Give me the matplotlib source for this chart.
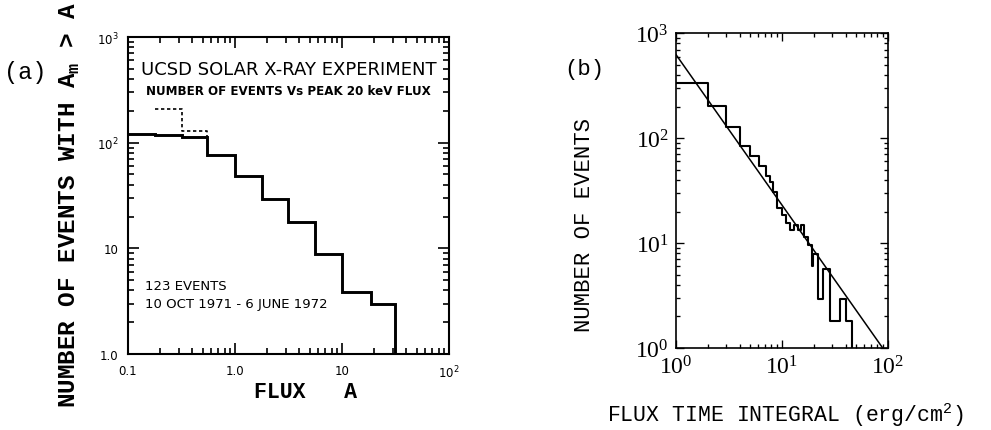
import matplotlib

matplotlib.use("Agg")
import matplotlib.pyplot as plt
from matplotlib.ticker import FixedLocator, FixedFormatter, LogLocator, NullFormatter

# (a) integral count of events above peak 20 keV flux
a_edges = [0.1, 0.18, 0.32, 0.55, 1.0, 1.77, 3.15, 5.6, 10.0, 18.5, 31.0, 100.0]
a_counts = [122, 119, 114, 77, 48, 29, 17.6, 8.8, 3.9, 3.0, 1.0]
# dashed variant at the low-flux end
a_dash_x = [0.18, 0.32, 0.55]
a_dash_n = [208, 129, 114]

a_xticks = [0.1, 1.0, 10.0, 100.0]
a_xlabels = ["0.1", "1.0", "10", r"$\mathregular{10^2}$"]
a_yticks = [1.0, 10.0, 100.0, 1000.0]
a_ylabels = ["1.0", "10", r"$\mathregular{10^2}$", r"$\mathregular{10^3}$"]

# (b) cumulative number of events vs flux time integral
b_x = [1.0, 2.0, 3.0, 4.0, 5.0, 6.05, 7.1, 7.7, 8.2, 9.0, 10.0, 11.0, 12.1, 13.0,
       14.2, 15.3, 16.4, 17.6, 19.3, 19.8, 22.0, 24.7, 28.6, 35.6, 40.2, 45.9]
b_n = [336, 204, 129, 85, 68, 54, 44, 38, 30.5, 21.5, 18.5, 15.5, 13.3, 15.0,
       13.2, 14.8, 11.5, 9.6, 6.0, 7.9, 2.93, 5.66, 1.8, 2.93, 1.8, 1.0]
# power-law fit drawn as a straight line in log-log space
b_fit_x = [1.0, 89.7]
b_fit_n = [632, 1.0]

b_ticks = [1.0, 10.0, 100.0]
b_xlabels = [r"$\mathregular{10^0}$", r"$\mathregular{10^1}$", r"$\mathregular{10^2}$"]
b_yticks = [1.0, 10.0, 100.0, 1000.0]
b_ylabels = [r"$\mathregular{10^0}$", r"$\mathregular{10^1}$",
             r"$\mathregular{10^2}$", r"$\mathregular{10^3}$"]

MONO = "Liberation Mono"
W, H = 991, 431


def fx(px):
    return px / W


def fy(py):
    return 1 - py / H


def setup_log_axes(ax, xticks, xlabels, yticks, ylabels, lw, major_len, minor_len,
                   tick_font, tick_size, pad):
    # scale first, otherwise set_xscale resets the locators
    ax.set_xscale("log")
    ax.set_yscale("log")
    ax.xaxis.set_major_locator(FixedLocator(xticks))
    ax.xaxis.set_major_formatter(FixedFormatter(xlabels))
    ax.yaxis.set_major_locator(FixedLocator(yticks))
    ax.yaxis.set_major_formatter(FixedFormatter(ylabels))
    ax.xaxis.set_minor_locator(LogLocator(base=10, subs=range(2, 10)))
    ax.yaxis.set_minor_locator(LogLocator(base=10, subs=range(2, 10)))
    ax.xaxis.set_minor_formatter(NullFormatter())
    ax.yaxis.set_minor_formatter(NullFormatter())
    for s in ax.spines.values():
        s.set_linewidth(lw)
    ax.tick_params(which="both", direction="in", top=True, right=True,
                   width=lw * 0.8, pad=pad, labelsize=tick_size,
                   labelfontfamily=tick_font)
    ax.tick_params(which="major", length=major_len)
    ax.tick_params(which="minor", length=minor_len)


fig = plt.figure(figsize=(W / 100, H / 100), dpi=100)
fig.patch.set_facecolor("white")

# ---- panel (a) ----
ax1 = fig.add_axes([fx(128), fy(355), fx(321), 317 / H])
ax1.step(a_edges[:-1] + [a_edges[-1]], a_counts + [a_counts[-1]],
         where="post", color="black", lw=2.1, solid_joinstyle="miter")
ax1.step(a_dash_x, a_dash_n, where="post", color="black", lw=1.2,
         linestyle=(0, (2, 1.6)))
setup_log_axes(ax1, a_xticks, a_xlabels, a_yticks, a_ylabels,
               1.5, 8, 4, "DejaVu Sans", 8.5, 7)
ax1.set_xlim(0.1, 100)
ax1.set_ylim(1, 1000)

ax1.text(0.5, 0.9, "UCSD SOLAR X-RAY EXPERIMENT", transform=ax1.transAxes,
         ha="center", va="center", fontsize=13, family="DejaVu Sans")
ax1.text(0.5, 0.831, "NUMBER OF EVENTS Vs PEAK 20 keV FLUX", transform=ax1.transAxes,
         ha="center", va="center", fontsize=8.6, family="DejaVu Sans", fontweight="bold")
ax1.text((145 - 128) / 321, 1 - (287 - 38) / 317, "123 EVENTS",
         transform=ax1.transAxes, ha="left", va="center", fontsize=9.5, family="DejaVu Sans")
ax1.text((145 - 128) / 321, 1 - (305 - 38) / 317, "10 OCT 1971 - 6 JUNE 1972",
         transform=ax1.transAxes, ha="left", va="center", fontsize=9.5, family="DejaVu Sans")

fig.text(fx(306), fy(393), "FLUX   A", ha="center", va="center",
         fontsize=15.5, family=MONO, fontweight="bold")
fig.text(fx(70), fy(205), r"NUMBER OF EVENTS WITH A$_{\mathregular{m}}$ > A",
         rotation=90, ha="center", va="center", fontsize=17.5, family=MONO,
         fontweight="bold")
fig.text(fx(25), fy(72), "(a)", ha="center", va="center", fontsize=17, family=MONO)

# ---- panel (b) ----
ax2 = fig.add_axes([fx(675.7), fy(349), 212 / W, (349 - 34.3) / H])
ax2.step(b_x, b_n, where="post", color="black", lw=1.5)
ax2.plot(b_fit_x, b_fit_n, color="black", lw=1.1)
setup_log_axes(ax2, b_ticks, b_xlabels, b_yticks, b_ylabels,
               1.2, 6, 3, "Liberation Serif", 17, 5)
ax2.set_xlim(1, 100)
ax2.set_ylim(1, 1000)

fig.text(fx(785), fy(415), r"FLUX TIME INTEGRAL (erg/cm$^{\mathregular{2}}$)",
         ha="center", va="center", fontsize=15.5, family=MONO)
fig.text(fx(585), fy(225), "NUMBER OF EVENTS", rotation=90, ha="center", va="center",
         fontsize=16, family=MONO)
fig.text(fx(584), fy(70), "(b)", ha="center", va="center", fontsize=16, family=MONO)

fig.savefig("out.png", dpi=100)
